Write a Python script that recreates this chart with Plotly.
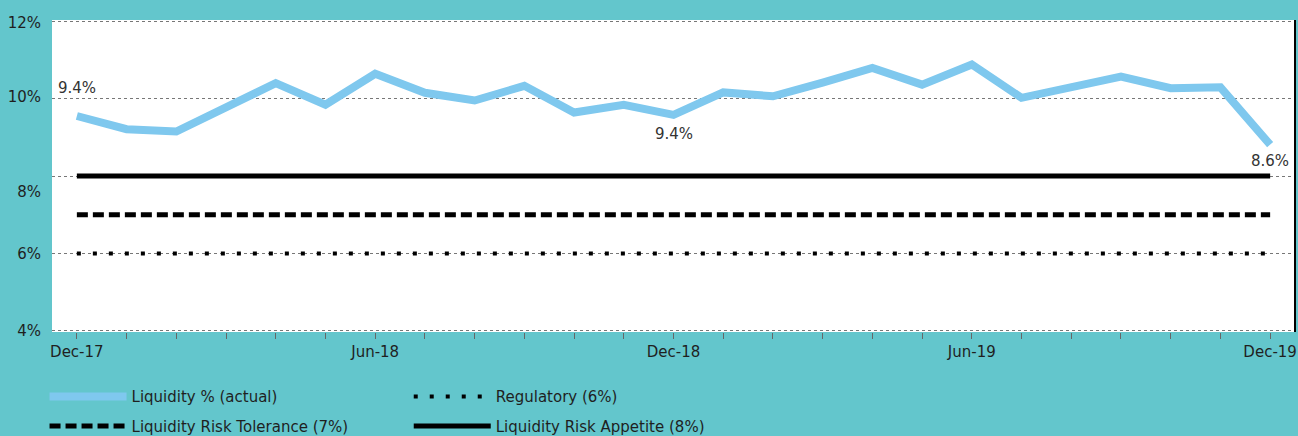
import plotly.graph_objects as go

# ---------------- data ----------------
months = ["Dec-17", "Jan-18", "Feb-18", "Mar-18", "Apr-18", "May-18", "Jun-18",
          "Jul-18", "Aug-18", "Sep-18", "Oct-18", "Nov-18", "Dec-18",
          "Jan-19", "Feb-19", "Mar-19", "Apr-19", "May-19", "Jun-19",
          "Jul-19", "Aug-19", "Sep-19", "Oct-19", "Nov-19", "Dec-19"]
liquidity = [9.55, 9.21, 9.15, 9.79, 10.40, 9.84, 10.64, 10.15, 9.95, 10.33,
             9.64, 9.84, 9.58, 10.16, 10.06, 10.41, 10.79, 10.36, 10.88,
             10.02, 10.30, 10.57, 10.27, 10.29, 8.81]
point_labels = ["9.4%"] + [""] * 11 + ["9.4%"] + [""] * 11 + ["8.6%"]
regulatory = [6.0] * len(months)
tolerance = [7.0] * len(months)
appetite = [8.0] * len(months)
tick_labels_shown = ["Dec-17", "Jun-18", "Dec-18", "Jun-19", "Dec-19"]
y_grid_vals = [4, 6, 8, 10, 12]
y_tick_text = ["4%", "6%", "8%", "10%", "12%"]

# ---------------- style ----------------
BG = "#63C6CC"
BLUE = "#7FC8EE"
FONT = "DejaVu Sans"
TXT = "#1f1f1f"
FS = 15
Y_RANGE = [3.97, 12.03]

fig = go.Figure()

fig.add_trace(go.Scatter(
    x=months, y=liquidity, mode="lines", name="Liquidity % (actual)",
    line=dict(color=BLUE, width=8), legend="legend", legendgroup="a"))
fig.add_trace(go.Scatter(
    x=months, y=tolerance, mode="lines", name="Liquidity Risk Tolerance (7%)",
    line=dict(color="black", width=5, dash="11px,5px"), legend="legend", legendgroup="b"))
fig.add_trace(go.Scatter(
    x=months, y=regulatory, mode="lines", name="Regulatory (6%)",
    line=dict(color="black", width=4, dash="4px,12px"), legend="legend2", legendgroup="c"))
fig.add_trace(go.Scatter(
    x=months, y=appetite, mode="lines", name="Liquidity Risk Appetite (8%)",
    line=dict(color="black", width=5), legend="legend2", legendgroup="d"))

# overlay axis carrying the y tick labels (the 8% label sits slightly below its gridline)
label_pos = [4, 6, 7.6, 10.05, 11.96]
fig.add_trace(go.Scatter(x=[months[0]], y=[8], yaxis="y2", mode="markers",
                         marker=dict(opacity=0), showlegend=False, hoverinfo="skip"))

# data labels
for i, lab in enumerate(point_labels):
    if lab:
        shift = 28 if i == 0 else (-19 if i < len(months) - 1 else -16)
        fig.add_annotation(x=months[i], y=liquidity[i], text=lab, showarrow=False,
                           yshift=shift, font=dict(family=FONT, size=FS, color="#333333"))

# right border line
fig.add_shape(type="line", xref="paper", yref="paper", x0=1, x1=1, y0=0, y1=1,
              line=dict(color="black", width=2))

legend_common = dict(orientation="v", yanchor="top", xanchor="left",
                     bgcolor="rgba(0,0,0,0)", itemwidth=77, tracegroupgap=7,
                     traceorder="grouped",
                     font=dict(family=FONT, size=FS, color=TXT), itemclick=False)

fig.update_layout(
    width=1298, height=436,
    margin=dict(l=52, r=3, t=20, b=104, autoexpand=False),
    paper_bgcolor=BG, plot_bgcolor="white",
    font=dict(family=FONT, size=FS, color=TXT),
    showlegend=True,
    legend=dict(x=-0.006, y=-0.155, **legend_common),
    legend2=dict(x=0.287, y=-0.155, **legend_common),
    xaxis=dict(
        type="category", range=[-0.5, len(months) - 0.5],
        tickvals=months,
        ticktext=[m if m in tick_labels_shown else "" for m in months],
        ticks="outside", ticklen=6, tickcolor="#666666", tickwidth=1,
        showgrid=False, showline=False, zeroline=False,
        tickfont=dict(family=FONT, size=FS, color=TXT),
    ),
    yaxis=dict(
        range=Y_RANGE, tickvals=y_grid_vals, showticklabels=False,
        showgrid=True, gridcolor="#777777", gridwidth=1, griddash="dot",
        zeroline=False, showline=False, ticks="",
    ),
    yaxis2=dict(
        range=Y_RANGE, overlaying="y", side="left", tickvals=label_pos,
        ticktext=y_tick_text, showgrid=False, zeroline=False, showline=False,
        ticks="outside", ticklen=7, tickcolor="rgba(0,0,0,0)",
        tickfont=dict(family=FONT, size=FS, color=TXT),
    ),
)

fig.write_html("out.html")
